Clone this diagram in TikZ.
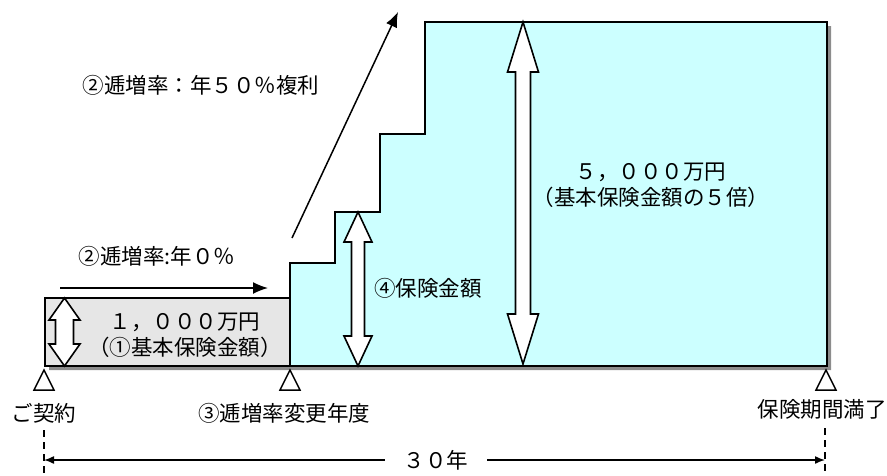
\documentclass[tikz,border=0pt]{standalone}
\usepackage{fontspec}
\setmainfont{Noto Sans CJK JP}
\usetikzlibrary{math,calc,arrows.meta}

\definecolor{paleCyan}{HTML}{CCFFFF}
\definecolor{paleGray}{HTML}{E6E6E6}
\definecolor{shadowGray}{HTML}{8C8C8C}

% vertical block arrow with two heads: x, top, bottom, half head, head length, half shaft
\newcommand{\blockarrow}[6]{%
  \draw[blockarrow] (#1,#2) -- (#1+#4,#2+#5) -- (#1+#6,#2+#5) -- (#1+#6,#3-#5)
    -- (#1+#4,#3-#5) -- (#1,#3) -- (#1-#4,#3-#5) -- (#1-#6,#3-#5)
    -- (#1-#6,#2+#5) -- (#1-#4,#2+#5) -- cycle;}

\begin{document}
\begin{tikzpicture}[x=1pt,y=-1pt,>/.tip={Latex[length=15pt,width=12pt]},
    outline/.style={line width=2pt,line join=miter},
    blockarrow/.style={draw,line width=1.6pt,fill=white,line join=miter},
    milestone/.style={line width=1.5pt,fill=white,line join=miter},
    txt/.style={font=\fontsize{21.5}{26}\selectfont,inner sep=0pt},
    spanline/.style={line width=1.5pt,-{Latex[length=10pt,width=8pt]}},
    dashline/.style={line width=1.5pt,dash pattern=on 7pt off 5pt}]
    \useasboundingbox (0,0) rectangle (887,475);
    \tikzmath{\yb=366; \xa=45; \xb=290; \xe=827;}
    % The shadow
    \fill[shadowGray,shift={(4,4)}] (\xa,298) -- (\xb,298) -- (\xb,263) -- (335,263)
      -- (335,212) -- (380,212) -- (380,134) -- (425,134) -- (425,22)
      -- (\xe,22) -- (\xe,\yb) -- (\xa,\yb) -- cycle;
    % The basic sum and the raised sums
    \draw[outline,fill=paleGray] (\xa,298) rectangle (\xb,\yb);
    \draw[outline,fill=paleCyan] (\xb,\yb) -- (\xb,263) -- (335,263) -- (335,212)
      -- (380,212) -- (380,134) -- (425,134) -- (425,22) -- (\xe,22)
      -- (\xe,\yb) -- cycle;
    \blockarrow{64.5}{298}{\yb}{15.5}{22}{9}
    \blockarrow{358}{212}{\yb}{14}{30}{6.5}
    \blockarrow{523}{22}{364}{15.5}{50}{7.5}
    % The rates
    \node[txt] (lblrise) at (201,85) {②逓増率：年５０％複利};
    \node[txt] (lblflat) at (157,256) {②逓増率:年０％};
    \coordinate (risefrom) at (292,238);
    \coordinate (riseto) at (398,12);
    \draw[line width=1.5pt,->] (risefrom) -- (riseto);
    \coordinate (flatfrom) at (60,288);
    \coordinate (flatto) at (268,288);
    \draw[line width=1.5pt,->] (flatfrom) -- (flatto);
    % The sums
    \node[txt,align=center] (basesum) at (185,335) {１，０００万円\\（①基本保険金額）};
    \node[txt] (sumlabel) at (428,288) {④保険金額};
    \node[txt,align=center] (maxsum) at (651,185) {５，０００万円\\（基本保険金額の５倍）};
    % The time line
    \foreach \x in {44,290,826}
      \draw[milestone] (\x,370) -- (\x+10,390) -- (\x-10,390) -- cycle;
    \node[txt] (tstart) at (44,413) {ご契約};
    \node[txt] (tchange) at (284,413) {③逓増率変更年度};
    \node[txt] (tend) at (822,409) {保険期間満了};
    \coordinate (dstart) at (44,430);
    \coordinate (dstartend) at (44,476);
    \coordinate (dend) at (825,428);
    \coordinate (dendend) at (825,476);
    \draw[dashline] (dstart) -- (dstartend);
    \draw[dashline] (dend) -- (dendend);
    \node[txt,inner xsep=19pt] (term) at (436,460) {３０年};
    \draw[spanline] (term.west) -- (dstart |- term);
    \draw[spanline] (term.east) -- (dend |- term);
\end{tikzpicture}
\end{document}
